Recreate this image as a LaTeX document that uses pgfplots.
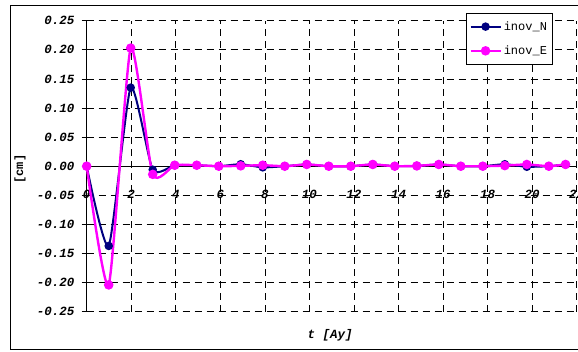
\documentclass[border=0pt]{standalone}
\usepackage{pgfplots}
\pgfplotsset{compat=1.18}
\usepackage{fontspec}
\setmainfont{Liberation Mono}
\newfontfamily\cour{Liberation Mono}
\definecolor{navyN}{RGB}{0,0,128}
\definecolor{magE}{RGB}{255,0,255}
\pgfplotstableread{
t N E
0 0 0
0.988 -0.137 -0.204
1.976 0.135 0.203
2.964 -0.006 -0.014
3.952 0.0017 0.0017
4.94 0.0017 0.0017
5.928 0.0 0.0
6.916 0.0034 0.0006
7.904 -0.002 0.0017
8.892 0.0 0.0
9.88 0.003 0.003
10.868 0.0 0.0
11.856 0.0 0.0
12.844 0.003 0.003
13.832 0.0 0.0
14.82 0.0005 0.0005
15.808 0.003 0.003
16.796 0.0 0.0
17.784 0.0 0.0
18.772 0.0034 0.001
19.76 -0.001 0.003
20.748 0.0 0.0
21.5 0.003 0.003
}\datatable
\begin{document}
\begin{tikzpicture}[x=1pt,y=1pt]
\useasboundingbox (0,0) rectangle (578,351);
\draw[line width=1pt] (610,345.3) -- (10.7,345.3) -- (10.7,1.7) -- (610,1.7);
\begin{axis}[
  at={(86.7pt,39.3pt)}, anchor=south west,
  scale only axis, width=490pt, height=291pt,
  xmin=0, xmax=22, ymin=-0.25, ymax=0.25,
  axis x line=middle, axis y line=left,
  axis line style={-, black, line width=0.8pt},
  hide obscured x ticks=false,
  xtick={0,2,...,22},
  xticklabels={0,2,4,6,8,10,12,14,16,18,20,22},
  ytick={-0.25,-0.2,...,0.26},
  yticklabels={-0.25,-0.20,-0.15,-0.10,-0.05,0.00,0.05,0.10,0.15,0.20,0.25},
  x tick style={draw=none},
  y tick style={black, line width=0.8pt},
  ytick align=outside, major tick length=5pt,
  grid=major,
  major grid style={black, line width=0.7pt, dash pattern=on 7pt off 5pt},
  ticklabel style={font=\cour\fontsize{12.5}{12.5}\selectfont\bfseries\itshape},
  yticklabel style={anchor=east, inner sep=0pt, xshift=-7pt},
  xticklabel style={anchor=center, inner sep=0pt, yshift=-26pt},
  xlabel={t [Ay]},
  xlabel style={font=\cour\fontsize{12.5}{12.5}\selectfont\bfseries\itshape, at={(axis description cs:0.4966,-0.08)}, anchor=center},
  ylabel={[cm]},
  ylabel style={font=\cour\fontsize{12}{12}\selectfont\bfseries, at={(axis description cs:-0.136,0.49)}, anchor=center, rotate=0},
  legend style={at={(axis description cs:0.774,1.026)}, anchor=north west, draw=black, line width=0.8pt, fill=white,
    font=\cour\fontsize{12}{12}\selectfont, row sep=10pt, inner xsep=3pt, inner ysep=6pt},
  legend cell align=left,
  legend image code/.code={\draw[mark repeat=2,mark phase=2,#1] plot coordinates {(0pt,0pt) (15pt,0pt) (30pt,0pt)};},
  clip=false,
]
\addplot[navyN, line width=2pt, smooth, tension=0.35, mark=*, mark size=3.2pt, mark options={solid, fill=navyN}] table[x=t,y=N] {\datatable};
\addlegendentry{inov\_N}
\addplot[magE, line width=2.4pt, smooth, tension=0.35, mark=*, mark size=3.5pt, mark options={solid, fill=magE}] table[x=t,y=E] {\datatable};
\addlegendentry{inov\_E}
\end{axis}
\end{tikzpicture}
\end{document}
